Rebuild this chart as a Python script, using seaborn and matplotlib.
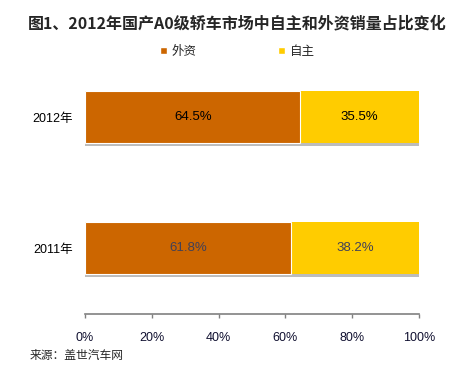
import matplotlib
matplotlib.use("Agg")
import matplotlib.pyplot as plt
import matplotlib.patheffects as pe
from matplotlib.patches import Patch
import seaborn as sns
import pandas as pd

years = ["2012年", "2011年"]
foreign = [64.5, 61.8]      # 外资
domestic = [35.5, 38.2]     # 自主
label_colors = ["#000000", "#404058"]
xticks = [0, 20, 40, 60, 80, 100]

ORANGE = "#CC6600"
YELLOW = "#FFCC00"

sns.set_theme(style="white")
plt.rcParams["font.family"] = ["Liberation Sans", "Noto Sans CJK SC", "DejaVu Sans"]

df = pd.DataFrame({"year": years, "foreign": foreign, "domestic": domestic})
df["total"] = df["foreign"] + df["domestic"]

fig = plt.figure(figsize=(4.75, 3.77), dpi=100)
ax = fig.add_axes([0.179, 0.168, 0.703, 0.695])

shadow = [pe.SimplePatchShadow(offset=(0, -2), shadow_rgbFace="#a0a0a0", alpha=0.7), pe.Normal()]

# full-length bar in yellow, then the foreign share over it in orange
sns.barplot(data=df, x="total", y="year", order=years, orient="h", color=YELLOW,
            width=0.4, linewidth=0, saturation=1, ax=ax)
for p in ax.patches:
    p.set_path_effects(shadow)
sns.barplot(data=df, x="foreign", y="year", order=years, orient="h", color=ORANGE,
            width=0.4, edgecolor="white", linewidth=0.8, saturation=1, ax=ax)

for i, (f, d) in enumerate(zip(foreign, domestic)):
    ax.text(f / 2, i, f"{f:.1f}%", ha="center", va="center", fontsize=9.5, color=label_colors[i])
    ax.text(f + d / 2, i, f"{d:.1f}%", ha="center", va="center", fontsize=9.5, color=label_colors[i])

ax.set_xlim(0, 100)
ax.set_ylim(1.5, -0.5)
ax.set_xticks(xticks)
ax.set_xticklabels([f"{t}%" for t in xticks], fontsize=9, color="#101030")
ax.tick_params(axis="x", direction="out", length=3, width=1, color="#808080", pad=10, bottom=True)
ax.tick_params(axis="y", length=0, pad=9, labelsize=9, labelcolor="#000000")
ax.set_xlabel("")
ax.set_ylabel("")
for s in ["top", "right", "left"]:
    ax.spines[s].set_visible(False)
ax.spines["bottom"].set_color("#808080")
ax.spines["bottom"].set_linewidth(1.2)

handles = [Patch(facecolor=ORANGE, label="外资"), Patch(facecolor=YELLOW, label="自主")]
fig.legend(handles=handles, loc="center", bbox_to_anchor=(0.5, 0.862), ncol=2, frameon=False,
           fontsize=9, handlelength=0.55, handleheight=0.55, handletextpad=0.4, columnspacing=6.5)

fig.text(0.5, 0.939, "图1、2012年国产A0级轿车市场中自主和外资销量占比变化", ha="center", va="center",
         fontsize=11.5, fontweight="bold", family=["Noto Sans CJK SC"])
fig.text(0.063, 0.058, "来源：盖世汽车网", ha="left", va="center", fontsize=8.5,
         family=["Noto Sans CJK SC"])

fig.savefig("out.png", dpi=100, facecolor="white")
